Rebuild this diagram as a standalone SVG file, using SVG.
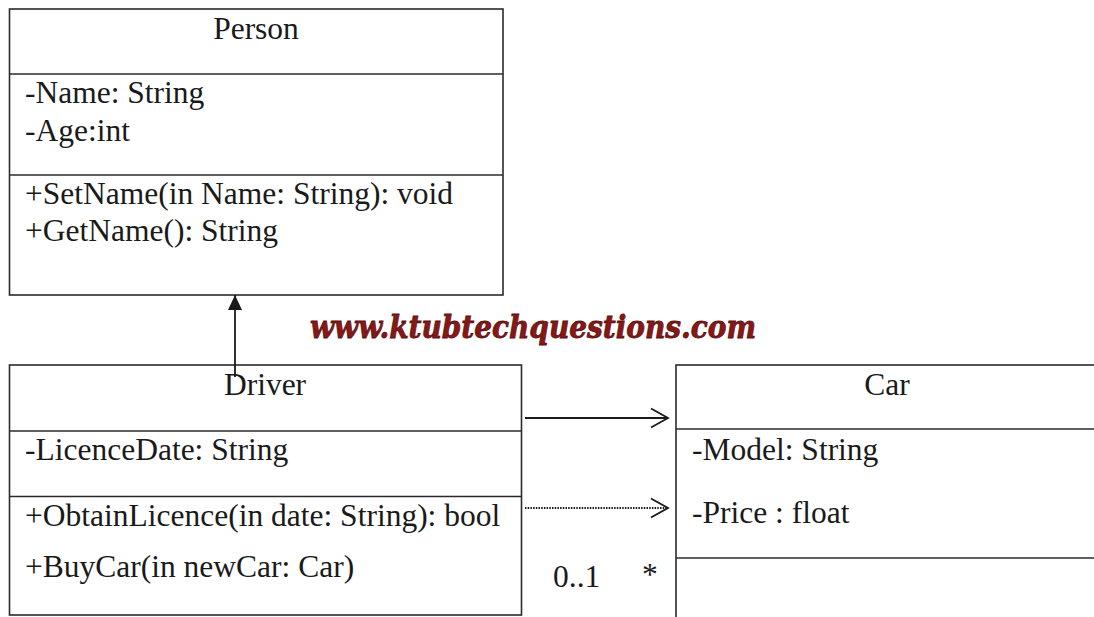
<svg xmlns="http://www.w3.org/2000/svg" width="1094" height="617" viewBox="0 0 1094 617">
<defs>
<style>
.box{fill:#fff;stroke:#2b2b2b;stroke-width:1.6}
.div{stroke:#2b2b2b;stroke-width:1.6}
.t{font-family:"Liberation Serif","Times New Roman",serif;font-size:31.5px;fill:#1a1a1a}
.c{text-anchor:middle}
.ln{stroke:#1a1a1a;stroke-width:1.8;fill:none}
.dot{stroke:#1a1a1a;stroke-width:1.8;fill:none;stroke-dasharray:1.5 1.2}
.wm{font-family:"DejaVu Serif",serif;font-weight:bold;font-style:italic;font-size:31px;fill:#861818;stroke:#5a0f0f;stroke-width:0.8}
</style>
<marker id="tri" viewBox="0 0 16 16" refX="15" refY="8" markerWidth="16" markerHeight="16" markerUnits="userSpaceOnUse" orient="auto">
<path d="M0,1 L15,8 L0,15 Z" fill="#1a1a1a"/>
</marker>
<marker id="open" viewBox="0 0 20 22" refX="18" refY="11" markerWidth="20" markerHeight="22" markerUnits="userSpaceOnUse" orient="auto">
<path d="M1,1.5 L18,11 L1,20.5" fill="none" stroke="#1a1a1a" stroke-width="1.8"/>
</marker>
</defs>
<rect width="1094" height="617" fill="#fff"/>

<g id="person">
<rect class="box" x="9.5" y="9" width="493.5" height="286"/>
<line class="div" x1="9.5" y1="74" x2="503" y2="74"/>
<line class="div" x1="9.5" y1="175" x2="503" y2="175"/>
<text class="t c" x="256" y="39">Person</text>
<text class="t" x="25" y="103">-Name: String</text>
<text class="t" x="25" y="141">-Age:int</text>
<text class="t" x="25" y="204">+SetName(in Name: String): void</text>
<text class="t" x="25" y="241">+GetName(): String</text>
</g>

<g id="driver">
<rect class="box" x="9.5" y="365" width="512" height="250"/>
<line class="div" x1="9.5" y1="431" x2="521.5" y2="431"/>
<line class="div" x1="9.5" y1="496.5" x2="521.5" y2="496.5"/>
<text class="t c" x="265" y="395">Driver</text>
<text class="t" x="25" y="460">-LicenceDate: String</text>
<text class="t" x="25" y="526">+ObtainLicence(in date: String): bool</text>
<text class="t" x="25" y="577">+BuyCar(in newCar: Car)</text>
</g>

<g id="car">
<rect class="box" x="676" y="365" width="424" height="260"/>
<line class="div" x1="676" y1="429" x2="1100" y2="429"/>
<line class="div" x1="676" y1="558" x2="1100" y2="558"/>
<text class="t c" x="887" y="395">Car</text>
<text class="t" x="692" y="460">-Model: String</text>
<text class="t" x="692" y="523">-Price : float</text>
</g>

<g id="connectors">
<line class="ln" x1="235" y1="377" x2="235" y2="295" marker-end="url(#tri)"/>
<line class="ln" x1="525" y1="418" x2="668" y2="418" marker-end="url(#open)"/>
<line class="dot" x1="525" y1="508" x2="668" y2="508" marker-end="url(#open)"/>
<text class="t" x="553" y="587" font-size="30">0..1</text>
<text class="t" x="642" y="585" font-size="30">*</text>
</g>

<text class="wm" x="310" y="338" textLength="446" lengthAdjust="spacingAndGlyphs">www.ktubtechquestions.com</text>
</svg>
